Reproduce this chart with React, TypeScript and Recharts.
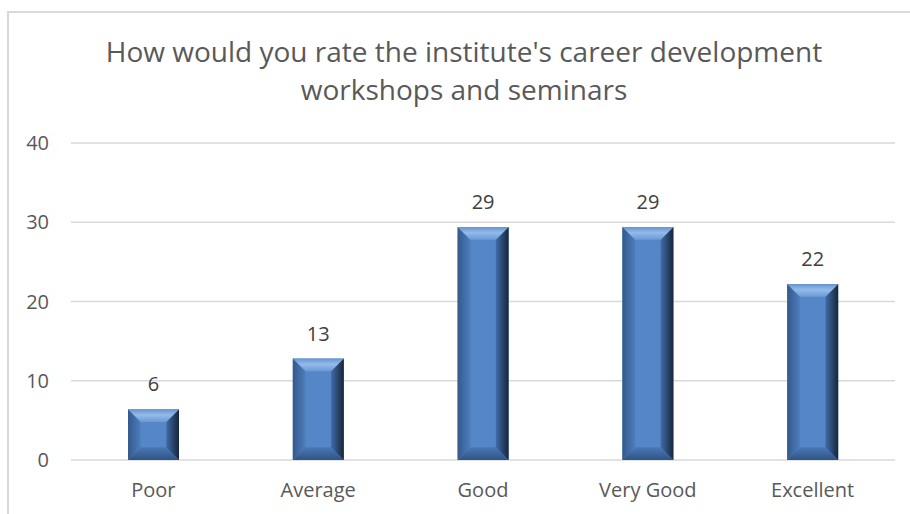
import React from 'react'
import { BarChart, Bar, XAxis, YAxis, CartesianGrid, LabelList } from 'recharts'

const categories = ['Poor', 'Average', 'Good', 'Very Good', 'Excellent']
const values = [6.4, 12.8, 29.4, 29.4, 22.2]
const yTicks = [0, 10, 20, 30, 40]

const data = categories.map((name, i) => ({ name, value: values[i] }))

const FONT = "'Open Sans', sans-serif"

// bar with an Excel-like bevel: four trapezoid edges round a flat face
const BevelBar = (props: any) => {
  const { x, y, width, height } = props
  if (!height || height <= 0) return null
  const b = Math.min(13, width / 4, height / 2)
  const x2 = x + width
  const y2 = y + height
  return (
    <g>
      <rect x={x} y={y} width={width} height={height} fill="#5587c8" />
      <polygon points={`${x},${y2} ${x2},${y2} ${x2 - b},${y2 - b} ${x + b},${y2 - b}`} fill="url(#bevBottom)" />
      <polygon points={`${x},${y} ${x + b},${y + b} ${x + b},${y2 - b} ${x},${y2}`} fill="url(#bevLeft)" />
      <polygon points={`${x2},${y} ${x2},${y2} ${x2 - b},${y2 - b} ${x2 - b},${y + b}`} fill="url(#bevRight)" />
      <polygon points={`${x},${y} ${x2},${y} ${x2 - b},${y + b} ${x + b},${y + b}`} fill="url(#bevTop)" />
    </g>
  )
}

export default function App() {
  return (
    <div style={{ position: 'absolute', left: 0, top: 0, width: 910, height: 514, background: '#fff', overflow: 'hidden' }}>
      <div
        style={{
          position: 'absolute',
          left: 7,
          top: 11,
          right: -4,
          bottom: -4,
          borderTop: '2px solid #d9d9d9',
          borderLeft: '2px solid #d9d9d9',
        }}
      />
      <div
        style={{
          position: 'absolute',
          left: 0,
          width: 928,
          top: 32,
          textAlign: 'center',
          fontFamily: FONT,
          fontSize: 28,
          lineHeight: '38px',
          color: '#595959',
          whiteSpace: 'nowrap',
        }}
      >
        How would you rate the institute's career development
        <br />
        workshops and seminars
      </div>
      <div style={{ position: 'absolute', left: 0, top: 0 }}>
        <BarChart width={910} height={514} data={data} margin={{ top: 143, right: 15, left: 0, bottom: 0 }}>
          <defs>
            <linearGradient id="bevTop" x1="0" y1="0" x2="0" y2="1">
              <stop offset="0" stopColor="#6694d0" />
              <stop offset="0.45" stopColor="#93bbea" />
              <stop offset="1" stopColor="#6b99d5" />
            </linearGradient>
            <linearGradient id="bevBottom" x1="0" y1="0" x2="0" y2="1">
              <stop offset="0" stopColor="#4a78b5" />
              <stop offset="1" stopColor="#2f5485" />
            </linearGradient>
            <linearGradient id="bevLeft" x1="0" y1="0" x2="1" y2="0">
              <stop offset="0" stopColor="#34598b" />
              <stop offset="1" stopColor="#4d7ebe" />
            </linearGradient>
            <linearGradient id="bevRight" x1="0" y1="0" x2="1" y2="0">
              <stop offset="0" stopColor="#3f6ca8" />
              <stop offset="1" stopColor="#17263b" />
            </linearGradient>
          </defs>
          <CartesianGrid vertical={false} stroke="#d9d9d9" strokeWidth={1.5} />
          <XAxis
            dataKey="name"
            axisLine={false}
            tickLine={false}
            tickSize={0}
            tickMargin={23}
            height={54}
            tick={{ fill: '#595959', fontSize: 20, fontFamily: FONT }}
          />
          <YAxis
            domain={[0, 40]}
            ticks={yTicks}
            axisLine={false}
            tickLine={false}
            tickSize={0}
            tickMargin={22}
            width={71}
            tick={{ fill: '#595959', fontSize: 20, fontFamily: FONT }}
          />
          <Bar dataKey="value" barSize={51} shape={<BevelBar />} isAnimationActive={false}>
            <LabelList
              dataKey="value"
              position="top"
              offset={18}
              formatter={(v: any) => Number(v).toFixed(0)}
              style={{ fill: '#404040', fontSize: 20, fontFamily: FONT }}
            />
          </Bar>
        </BarChart>
      </div>
    </div>
  )
}
